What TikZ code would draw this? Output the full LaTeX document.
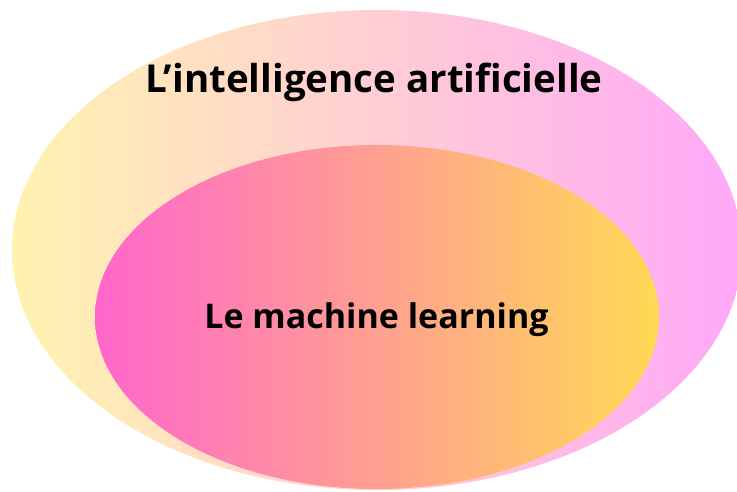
\documentclass[tikz,border=0pt]{standalone}
\usepackage{fontspec}
\setmainfont{Open Sans}
\usetikzlibrary{shapes.geometric, positioning}

\begin{document}
\begin{tikzpicture}[x=1pt, y=1pt, blob/.style={ellipse, inner sep=0pt}, every node/.style={text=black}, title/.style={anchor=base, font=\bfseries\fontsize{#1}{#1}\selectfont}]

    % Fix the page size and cut off what spills over
    \useasboundingbox (0,0) rectangle (737,491);
    \clip (0,0) rectangle (737,491);

    % Define the two sets (nodes)
    \node[blob, minimum width=730pt, minimum height=480pt, left color={rgb,255:red,255;green,243;blue,176}, right color={rgb,255:red,255;green,168;blue,248}] (ai) at (377,241) {}; % Outer set
    \node[blob, minimum width=564pt, minimum height=344pt, left color={rgb,255:red,255;green,102;blue,204}, right color={rgb,255:red,255;green,218;blue,84}] (ml) at (377,174) {}; % Inner set

    % Names of the sets
    \node[title=38.5] (aititle) at (374,398) {L’intelligence artificielle};
    \node[title=34] (mltitle) at (376.5,163) {Le machine learning};
\end{tikzpicture}
\end{document}
